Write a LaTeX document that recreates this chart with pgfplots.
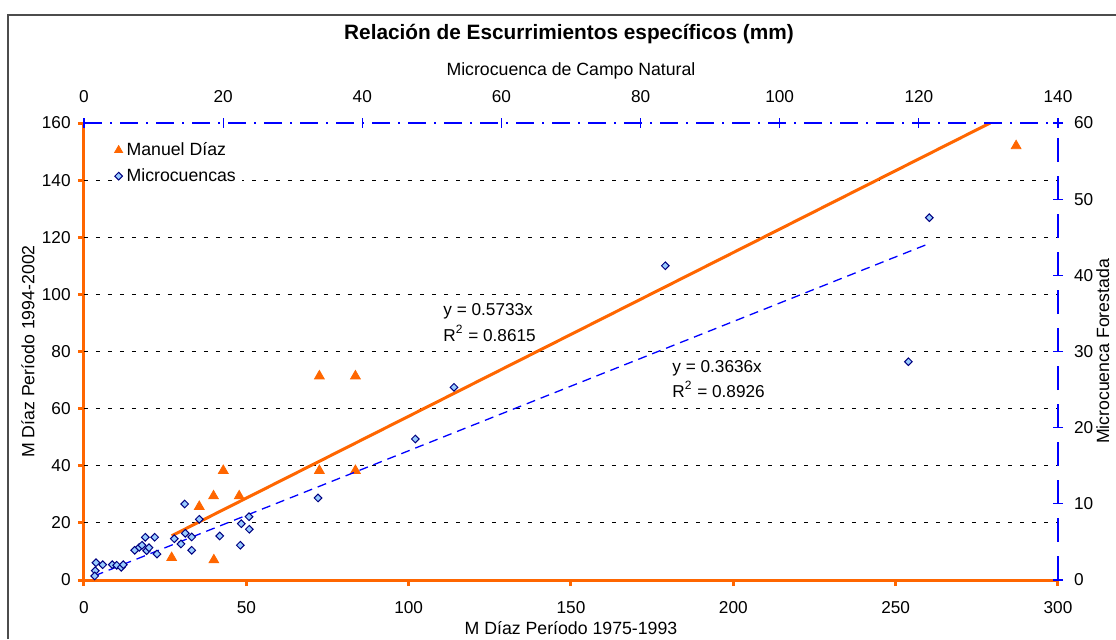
\documentclass[border=0pt]{standalone}
\usepackage{fontspec}
\setmainfont{Liberation Sans}
\usepackage{pgfplots}
\pgfplotsset{compat=1.18}
\definecolor{morange}{RGB}{255,102,0}
\definecolor{mblue}{RGB}{0,0,255}
\definecolor{dnavy}{RGB}{0,0,128}
\definecolor{dfill}{RGB}{153,204,255}
\newcommand{\fs}{\fontsize{8.6}{10}\selectfont}
\newcommand{\fl}{\fontsize{8.85}{10}\selectfont}

\begin{document}
\begin{tikzpicture}[x=0.5pt,y=0.5pt]
  \useasboundingbox (0,0) rectangle (1116,639);
  \draw[black!70, line width=0.6pt] (8,0) -- (8,624) -- (1116,624);
  \node[font=\bfseries\fontsize{10.4}{12}\selectfont, anchor=base] at (569,599)
    {Relación de Escurrimientos específicos (mm)};

  % Manuel Diaz: bottom and left axes
  \begin{axis}[
      at={(42pt,29.5pt)}, anchor=south west,
      scale only axis, width=487pt, height=228.5pt,
      xmin=0, xmax=300, ymin=0, ymax=160,
      axis x line=bottom, axis y line=left,
      axis line style={-, morange, line width=1.5pt},
      every outer x axis line/.append style={-},
      every outer y axis line/.append style={-},
      xtick={0,50,...,300}, ytick={0,20,...,160},
      tick style={morange, line width=1.5pt},
      tick align=outside, major tick length=3pt,
      extra y ticks={20,40,...,140}, extra y tick labels={},
      extra y tick style={grid=major, major tick length=0pt},
      major grid style={black, line width=0.5pt, dash pattern=on 2pt off 4pt},
      /pgf/number format/assume math mode=true,
      ticklabel style={font=\fs, inner sep=0pt},
      xticklabel style={anchor=base, yshift=-13.5pt},
      yticklabel style={anchor=east, xshift=-3.5pt},
      xlabel={M Díaz Período 1975-1993},
      ylabel={M Díaz Período 1994-2002},
      label style={font=\fl},
      xlabel style={at={(axis description cs:0.5,-0.12)}, anchor=base},
      ylabel style={at={(axis description cs:-0.0575,0.5)}, anchor=center},
    ]
    \addplot[only marks, mark=triangle*, mark size=2.8pt,
      mark options={fill=morange, draw=morange}] coordinates {
      (27.0,7.8) (35.5,25.7) (39.9,29.4) (40.0,7.0) (42.9,38.3)
      (47.8,29.4) (72.5,71.4) (72.5,38.3) (83.6,71.4) (83.6,38.3)
      (287.1,152.0)
    };
    \addplot[morange, line width=1.5pt] coordinates {(27.0,15.48) (279.1,160)};
  \end{axis}

  % Microcuencas: top and right axes
  \begin{axis}[
      at={(42pt,29.5pt)}, anchor=south west,
      scale only axis, width=487pt, height=228.5pt,
      xmin=0, xmax=140, ymin=0, ymax=60,
      axis x line=top, axis y line=right,
      axis line style={-, mblue, line width=0.6pt},
      every outer x axis line/.append style={-, dash pattern=on 9pt off 4pt on 1pt off 4pt},
      every outer y axis line/.append style={-, dash pattern=on 12pt off 7pt},
      xtick={0,20,...,140}, ytick={0,10,...,60},
      tick style={mblue, line width=0.6pt},
      tick align=center, major tick length=5pt,
      /pgf/number format/assume math mode=true,
      ticklabel style={font=\fs, inner sep=0pt},
      xticklabel style={anchor=base, yshift=8pt},
      yticklabel style={anchor=west, xshift=5.3pt},
      xlabel={Microcuenca de Campo Natural},
      ylabel={Microcuenca Forestada},
      label style={font=\fl},
      xlabel style={at={(axis description cs:0.5,1.105)}, anchor=base},
      ylabel style={at={(axis description cs:1.046,0.5)}, anchor=center},
      legend style={draw=none, fill=white, font=\fl,
        at={(axis description cs:0.029,0.972)}, anchor=north west,
        row sep=1pt, inner sep=1pt},
      legend cell align=left,
    ]
    \addlegendimage{only marks, mark=triangle*, mark size=2.3pt,
      mark options={fill=morange, draw=morange}}
    \addlegendentry{Manuel Díaz}
    \addplot[only marks, mark=square*, mark size=1.35pt,
      mark options={rotate=45, fill=dfill, draw=dnavy, line width=0.5pt}] coordinates {
      (1.72,2.27) (2.69,2.01) (1.62,1.22) (1.54,0.53) (4.07,2.01)
      (4.70,1.93) (5.36,1.67) (5.65,2.01) (7.29,3.90) (7.95,4.29)
      (8.34,4.56) (8.81,5.61) (9.01,3.85) (9.34,4.24) (10.16,5.61)
      (10.49,3.41) (12.98,5.42) (13.94,4.73) (14.47,9.98) (14.56,6.13)
      (15.48,5.65) (15.48,3.90) (16.57,7.97) (19.51,5.78) (22.47,4.56)
      (22.61,7.39) (23.72,8.31) (23.76,6.66) (33.64,10.77) (47.62,18.51)
      (53.18,25.30) (83.56,41.26) (118.5,28.66) (121.5,47.57)
    };
    \addlegendentry{Microcuencas}
    \addplot[mblue, line width=0.65pt, dash pattern=on 4.5pt off 3pt, forget plot]
      coordinates {(1.54,0.56) (121.5,44.18)};
  \end{axis}

  \node[font=\fs, anchor=base west, inner sep=0pt] at (443,323) {y = 0.5733x};
  \node[font=\fs, anchor=base west, inner sep=0pt] at (443,298) {R\textsuperscript{2} = 0.8615};
  \node[font=\fs, anchor=base west, inner sep=0pt] at (672,267) {y = 0.3636x};
  \node[font=\fs, anchor=base west, inner sep=0pt] at (672,242) {R\textsuperscript{2} = 0.8926};
\end{tikzpicture}
\end{document}
